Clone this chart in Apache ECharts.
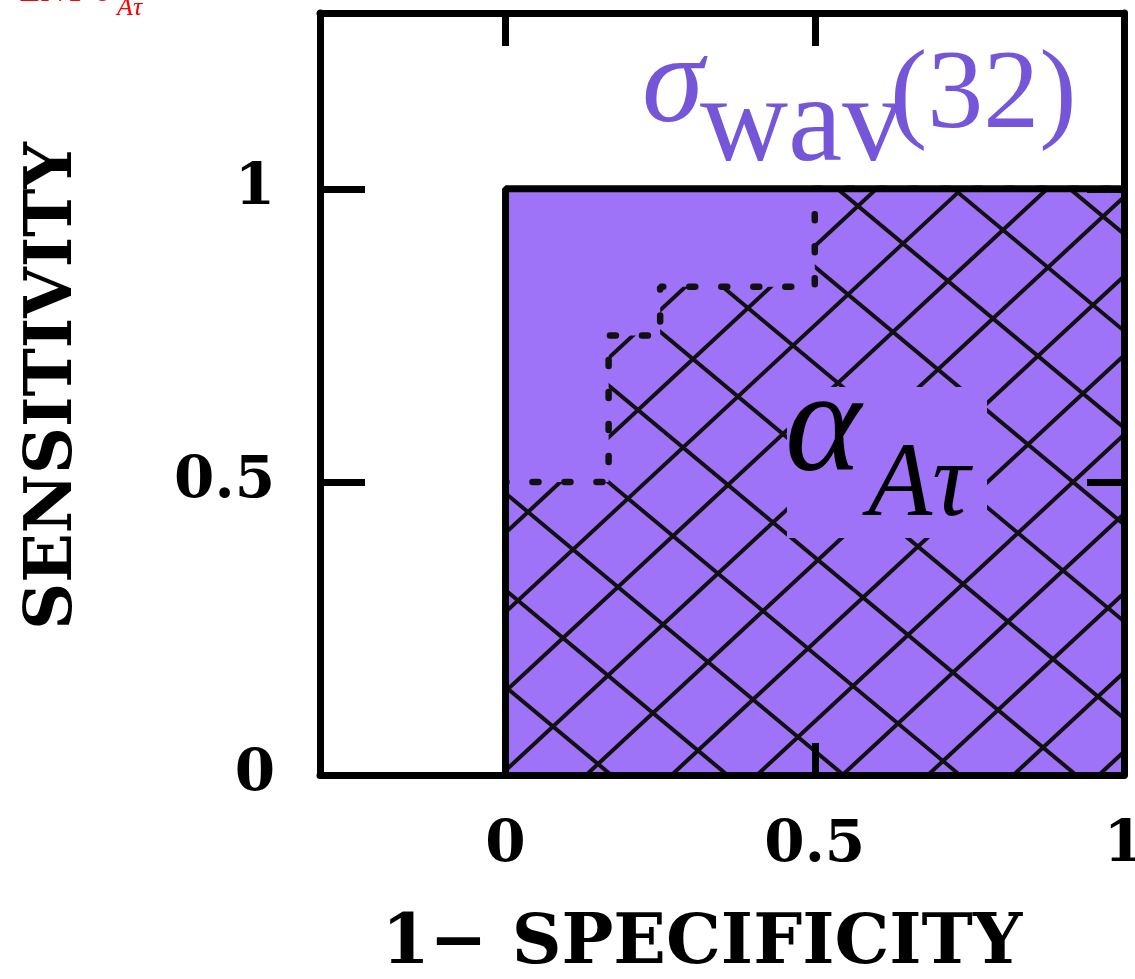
<!DOCTYPE html>
<html><head><meta charset="utf-8">
<script src="https://cdn.jsdelivr.net/npm/echarts@6/dist/echarts.min.js"></script>
<style>html,body{margin:0;padding:0;background:#fff}#c{width:1135px;height:979px}</style>
</head><body><div id="c"></div>
<script>
// ---- data ----
const xTicks = [0, 0.5, 1];
const yTicks = [0, 0.5, 1];
const xTickLabels = ['0', '0.5', '1'];
const yTickLabels = ['0', '0.5', '1'];
// sigma_wav(32) ROC curve (step vertices)
const sigmaX = [0, 0, 1];
const sigmaY = [0, 1, 1];
// alpha_A-tau ROC curve (step vertices)
const alphaX = [0, 0, 1/6, 1/6, 0.25, 0.25, 0.5, 0.5, 1];
const alphaY = [0, 0.5, 0.5, 0.75, 0.75, 0.833, 0.833, 1, 1];

const PURPLE = '#9F73F7';
const LABEL_PURPLE = '#7556D8';
const SERIF = 'Liberation Serif, Times New Roman, serif';
const AXFONT = 'DejaVu Serif, serif';

function hatchCanvas() {
  const W = 1135, H = 979;
  const c = document.createElement('canvas');
  c.width = W; c.height = H;
  const g = c.getContext('2d');
  g.strokeStyle = '#111';
  g.lineWidth = 4;
  const P0 = [653, 713];
  const a = [45, 37.5];   // down-right direction / step
  const b = [55, -51];    // up-right direction / step
  for (let k = -40; k <= 40; k++) {
    let px = P0[0] + k * b[0], py = P0[1] + k * b[1];
    g.beginPath();
    g.moveTo(px - a[0] * 40, py - a[1] * 40);
    g.lineTo(px + a[0] * 40, py + a[1] * 40);
    g.stroke();
    px = P0[0] + k * a[0]; py = P0[1] + k * a[1];
    g.beginPath();
    g.moveTo(px - b[0] * 40, py - b[1] * 40);
    g.lineTo(px + b[0] * 40, py + b[1] * 40);
    g.stroke();
  }
  return c;
}

const pair = (xs, ys) => xs.map((x, i) => [x, ys[i]]);
const fmt = (vals, labels) => (v) => { const i = vals.indexOf(+v); return i >= 0 ? labels[i] : ''; };

const chart = echarts.init(document.getElementById('c'), null, { renderer: 'canvas' });

const axLine = { show: true, onZero: false, lineStyle: { color: '#000', width: 7 } };
const tickStyle = { color: '#000', width: 7 };
const labelStyle = { fontFamily: AXFONT, fontWeight: 'bold', fontSize: 58, color: '#000' };
const nameStyle = { fontFamily: AXFONT, fontWeight: 'bold', fontSize: 69, color: '#000' };

const option = {
  animation: false,
  backgroundColor: '#fff',
  grid: { left: 320, right: 11, top: 13, bottom: 204, outerBoundsMode: 'none', containLabel: false },
  xAxis: [
    {
      type: 'value', position: 'bottom', min: -0.3, max: 1, z: 10,
      axisLine: axLine,
      axisTick: { show: true, inside: true, length: 32, customValues: xTicks, lineStyle: tickStyle },
      axisLabel: Object.assign({ show: true, margin: 42, customValues: xTicks, hideOverlap: false, formatter: fmt(xTicks, xTickLabels) }, labelStyle),
      splitLine: { show: false },
      name: '1\u2212 SPECIFICITY', nameLocation: 'middle', nameGap: 136,
      nameTextStyle: Object.assign({ padding: [0, 40, 0, 0] }, nameStyle)
    },
    {
      type: 'value', position: 'top', min: -0.3, max: 1, z: 10,
      axisLine: axLine,
      axisTick: { show: true, inside: true, length: 33, customValues: xTicks, lineStyle: tickStyle },
      axisLabel: { show: false },
      splitLine: { show: false }
    }
  ],
  yAxis: [
    {
      type: 'value', position: 'left', min: 0, max: 1.3, z: 10,
      axisLine: axLine,
      axisTick: { show: true, inside: true, length: 45, customValues: yTicks, lineStyle: tickStyle },
      axisLabel: Object.assign({ show: true, margin: 45, customValues: yTicks, formatter: fmt(yTicks, yTickLabels) }, labelStyle),
      splitLine: { show: false },
      name: 'SENSITIVITY', nameLocation: 'middle', nameGap: 233,
      nameTextStyle: Object.assign({}, nameStyle, { fontSize: 65, padding: [0, 0, 0, 16] })
    },
    {
      type: 'value', position: 'right', min: 0, max: 1.3, z: 10,
      axisLine: axLine,
      axisTick: { show: true, inside: true, length: 37, customValues: [0.5, 1], lineStyle: tickStyle },
      axisLabel: { show: false },
      splitLine: { show: false }
    }
  ],
  series: [
    {
      name: 'sigma_wav(32) area', type: 'line', xAxisIndex: 0, yAxisIndex: 0,
      data: pair(sigmaX, sigmaY), symbol: 'none', z: 2,
      lineStyle: { width: 0 },
      areaStyle: { color: PURPLE, opacity: 1 }
    },
    {
      name: 'alpha_Atau', type: 'line', xAxisIndex: 0, yAxisIndex: 0,
      data: pair(alphaX, alphaY), symbol: 'none', z: 3,
      lineStyle: { color: '#111', width: 6.5, type: [6, 26], cap: 'round' },
      areaStyle: { color: { image: hatchCanvas(), repeat: 'no-repeat' }, opacity: 1 }
    },
    {
      name: 'sigma_wav(32)', type: 'line', xAxisIndex: 0, yAxisIndex: 0,
      data: pair(sigmaX, sigmaY), symbol: 'none', z: 4,
      lineStyle: { color: '#000', width: 7 }
    }
  ],
  graphic: [
    // red clipped title fragment
    { type: 'text', z: 100, style: { text: 'ENT-\u03C3', x: 112, y: -8, align: 'right', verticalAlign: 'middle', fill: '#ff0000', font: '34px ' + SERIF } },
    { type: 'text', z: 100, style: { text: 'A\u03C4', x: 117, y: 8, align: 'left', verticalAlign: 'middle', fill: '#ff0000', font: 'italic 26px ' + SERIF } },
    // sigma_wav(32) label
    { type: 'text', z: 100, style: { text: '\u03C3', x: 642, y: 88, align: 'left', verticalAlign: 'middle', fill: LABEL_PURPLE, font: 'italic 125px ' + SERIF } },
    { type: 'text', z: 100, style: { text: 'wav', x: 700, y: 128, align: 'left', verticalAlign: 'middle', fill: LABEL_PURPLE, font: '122px ' + SERIF } },
    { type: 'text', z: 100, style: { text: '(32)', x: 890, y: 98, align: 'left', verticalAlign: 'middle', fill: LABEL_PURPLE, font: '112px ' + SERIF } },
    // alpha_Atau label with plain background
    { type: 'rect', z: 99, shape: { x: 787, y: 387, width: 200, height: 151 }, style: { fill: PURPLE } },
    { type: 'text', z: 100, style: { text: '\u03B1', x: 785, y: 432, align: 'left', verticalAlign: 'middle', fill: '#000', font: 'italic 145px ' + SERIF } },
    { type: 'text', z: 100, style: { text: 'A\u03C4', x: 868, y: 487, align: 'left', verticalAlign: 'middle', fill: '#000', font: 'italic 105px ' + SERIF } }
  ]
};
chart.setOption(option);
</script>
</body></html>
